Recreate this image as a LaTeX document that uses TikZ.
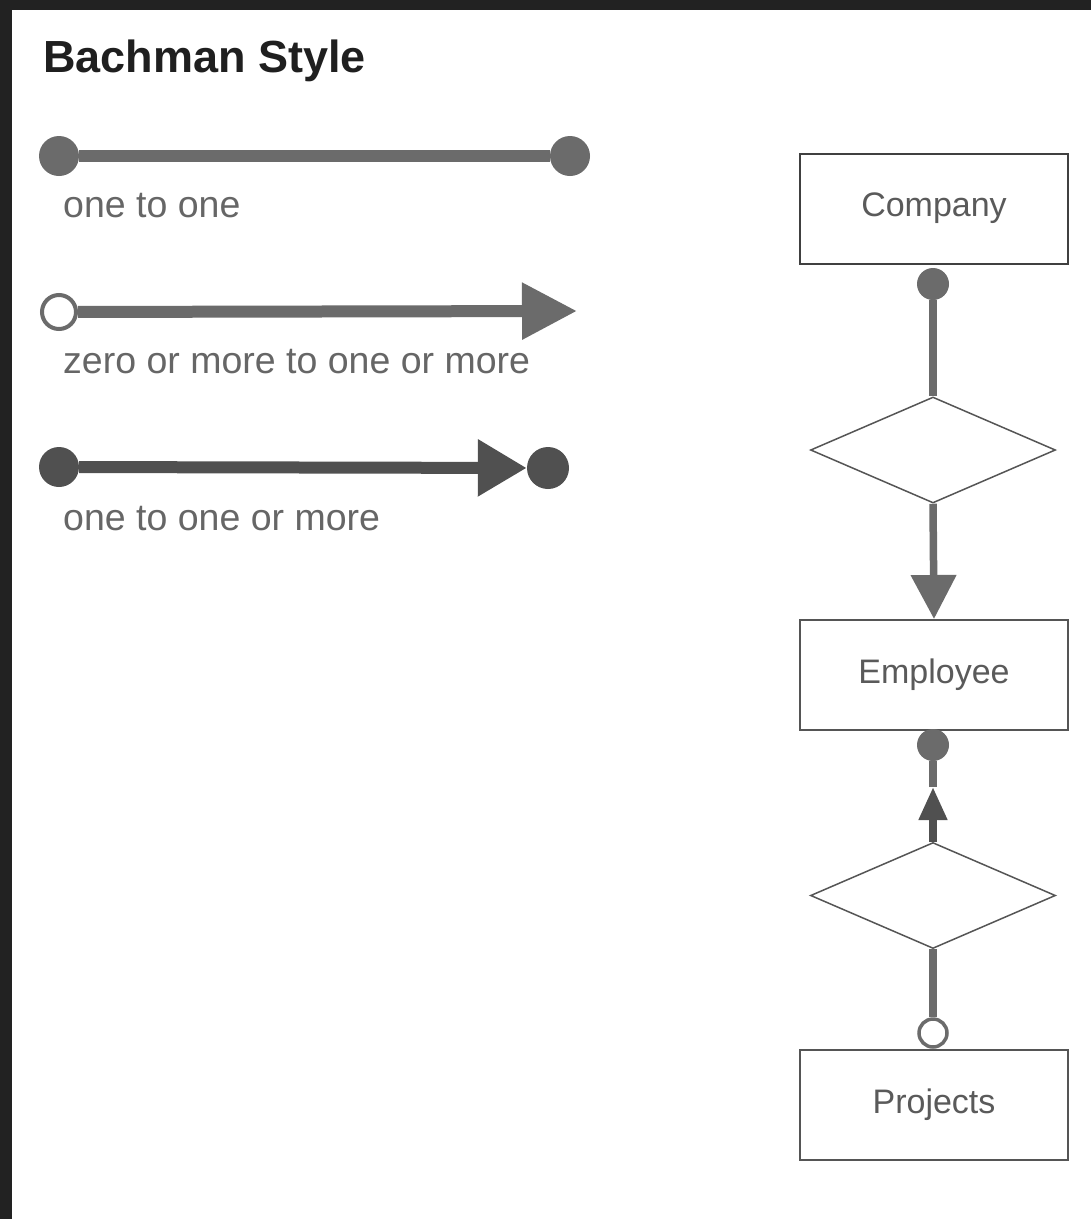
\documentclass[tikz,border=0pt]{standalone}
\usepackage{fontspec}
\setmainfont{Liberation Sans}
\usetikzlibrary{arrows.meta,shapes.geometric}
\definecolor{framecol}{HTML}{222222}
\definecolor{linkgray}{HTML}{6B6B6B}
\definecolor{linkdark}{HTML}{505050}
\definecolor{labelgray}{HTML}{666666}
\definecolor{boxline}{HTML}{555555}
\definecolor{entitytext}{HTML}{5A5A5A}

\begin{document}
\begin{tikzpicture}[x=1pt,y=-1pt,
  bigdot/.style={circle, fill=#1, inner sep=0pt, minimum size=40pt},
  bigdot/.default=linkgray,
  bigring/.style={circle, draw=linkgray, fill=white, line width=4pt, inner sep=0pt, minimum size=34pt},
  smalldot/.style={circle, fill=linkgray, inner sep=0pt, minimum size=32pt},
  smallring/.style={circle, draw=linkgray, fill=white, line width=3.5pt, inner sep=0pt, minimum size=28pt},
  wideline/.style={draw=#1, line width=12pt},
  wideline/.default=linkgray,
  link/.style={draw=#1, line width=7.5pt},
  link/.default=linkgray,
  legendtext/.style={anchor=base west, inner sep=0pt, text=labelgray, font=\fontsize{37.5}{44}\selectfont},
  entity/.style={draw=boxline, line width=2pt, fill=white, minimum width=268pt, minimum height=110pt,
    inner sep=0pt, text=entitytext, font=\fontsize{34}{40}\selectfont},
  relation/.style={diamond, draw=boxline, line width=1.5pt, fill=white, inner sep=0pt,
    minimum width=245pt, minimum height=106pt}
]
% canvas with dark frame on the top and left edges
\fill[framecol] (0,0) rectangle (1091,1219);
\fill[white] (12,10) rectangle (1091,1219);
\useasboundingbox (0,0) rectangle (1091,1219);

\node[anchor=base west, inner sep=0pt, text=black!88, font=\bfseries\fontsize{45}{50}\selectfont]
  (title) at (43,72) {Bachman Style};

% legend: one to one
\node[bigdot] (r1a) at (59,156) {};
\node[bigdot] (r1b) at (570,156) {};
\draw[wideline] (r1a) -- (r1b);
\node[legendtext] (l1) at (63,217) {one to one};

% legend: zero or more to one or more
\node[bigring] (r2a) at (59,312) {};
\coordinate (r2b) at (577,311);
\draw[wideline, -{Triangle[length=55pt,width=54pt]}, linkgray] (r2a) -- (r2b);
\node[legendtext] (l2) at (63,373) {zero or more to one or more};

% legend: one to one or more
\node[bigdot=linkdark] (r3a) at (59,467) {};
\node[bigdot=linkdark, minimum size=42pt] (r3b) at (548,468) {};
\draw[wideline=linkdark, -{Triangle[length=49pt,width=54pt]}, linkdark] (r3a) -- (r3b);
\node[legendtext] (l3) at (63,530) {one to one or more};

% example schema
\node[entity, draw=black!75] (company) at (934,208.5) {Company};
\node[entity] (employee) at (934,675) {Employee};
\node[entity] (projects) at (934,1104.5) {Projects};
\node[relation] (rel1) at (933,450) {};
\node[relation] (rel2) at (933,895.5) {};

\node[smalldot] (cdot) at (933,284) {};
\draw[link] (cdot) -- (rel1.north);
\draw[link, -{Triangle[length=44pt,width=44pt]}, linkgray] (rel1.south) -- (employee.north);

\node[smalldot] (edot) at (933,745) {};
\coordinate (uptip) at (933,787);
\draw[link=linkdark, -{Triangle[length=33pt,width=27pt]}, linkdark] (rel2.north) -- (uptip);
\draw[link] (uptip) -- (edot);

\node[smallring] (pring) at (933,1033) {};
\draw[link] (rel2.south) -- (pring);
\end{tikzpicture}
\end{document}
